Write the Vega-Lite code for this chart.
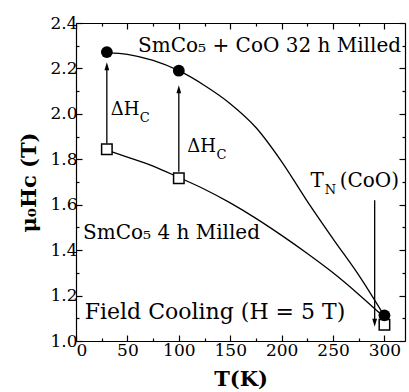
{
  "$schema": "https://vega.github.io/schema/vega-lite/v6.json",
  "width": 329,
  "height": 318,
  "autosize": "none",
  "padding": {"left": 76, "top": 23, "right": 4, "bottom": 51},
  "background": "white",
  "config": {
    "view": {"stroke": null},
    "font": "DejaVu Serif",
    "axis": {
      "grid": false,
      "domainColor": "black",
      "tickColor": "black",
      "labelColor": "black",
      "titleColor": "black",
      "labelFont": "DejaVu Serif",
      "titleFont": "DejaVu Serif",
      "labelFontSize": 17,
      "titleFontSize": 21,
      "titleFontWeight": "bold",
      "domainWidth": 1.2,
      "tickWidth": 1.2,
      "labelOverlap": false
    }
  },
  "datasets": {
    "curves": [
      {"series": "upper", "T": 30, "H": 2.27},
      {"series": "upper", "T": 50, "H": 2.262},
      {"series": "upper", "T": 75, "H": 2.235},
      {"series": "upper", "T": 100, "H": 2.19},
      {"series": "upper", "T": 125, "H": 2.125},
      {"series": "upper", "T": 150, "H": 2.045},
      {"series": "upper", "T": 175, "H": 1.94},
      {"series": "upper", "T": 200, "H": 1.79},
      {"series": "upper", "T": 225, "H": 1.615},
      {"series": "upper", "T": 250, "H": 1.45},
      {"series": "upper", "T": 275, "H": 1.29},
      {"series": "upper", "T": 300, "H": 1.11},
      {"series": "lower", "T": 30, "H": 1.84},
      {"series": "lower", "T": 50, "H": 1.81},
      {"series": "lower", "T": 75, "H": 1.77},
      {"series": "lower", "T": 100, "H": 1.72},
      {"series": "lower", "T": 125, "H": 1.668},
      {"series": "lower", "T": 150, "H": 1.608},
      {"series": "lower", "T": 175, "H": 1.54},
      {"series": "lower", "T": 200, "H": 1.465},
      {"series": "lower", "T": 225, "H": 1.385},
      {"series": "lower", "T": 250, "H": 1.3},
      {"series": "lower", "T": 275, "H": 1.205},
      {"series": "lower", "T": 296, "H": 1.12}
    ],
    "circles": [
      {"T": 30, "H": 2.272},
      {"T": 100, "H": 2.19},
      {"T": 300, "H": 1.113}
    ],
    "squares": [
      {"T": 30, "H": 1.844},
      {"T": 100, "H": 1.717},
      {"T": 300, "H": 1.072}
    ],
    "arrows": [
      {"T": 30, "from": 1.87, "to": 2.21, "dir": "up"},
      {"T": 100, "from": 1.745, "to": 2.108, "dir": "up"},
      {"T": 290.5, "from": 1.62, "to": 1.08, "dir": "down"}
    ],
    "bigtext": [
      {"label": "SmCo₅ + CoO 32 h Milled", "T": 60.4, "H": 2.271},
      {"label": "SmCo₅ 4 h Milled", "T": 6.8, "H": 1.45},
      {"label": "T", "T": 228, "H": 1.678},
      {"label": "(CoO)", "T": 256.5, "H": 1.678}
    ],
    "fieldtext": [
      {"label": "Field Cooling (H = 5 T)", "T": 8.5, "H": 1.098}
    ],
    "midtext": [
      {"label": "ΔH", "T": 33.8, "H": 1.997},
      {"label": "ΔH", "T": 108.1, "H": 1.832}
    ],
    "subtext": [
      {"label": "C", "T": 62, "H": 1.966},
      {"label": "C", "T": 136.7, "H": 1.803},
      {"label": "N", "T": 242, "H": 1.648}
    ]
  },
  "layer": [
    {
      "data": {"name": "curves"},
      "mark": {"type": "line", "color": "black", "strokeWidth": 1.3, "interpolate": "monotone"},
      "encoding": {
        "x": {"field": "T", "type": "quantitative", "scale": {"domain": [0, 320], "nice": false, "zero": false},
          "axis": {"orient": "bottom", "values": [0, 50, 100, 150, 200, 250, 300], "format": "d", "tickSize": -6, "labelPadding": 7, "title": "T(K)", "titlePadding": 10}},
        "y": {"field": "H", "type": "quantitative", "scale": {"domain": [1.0, 2.4], "nice": false, "zero": false},
          "axis": {"orient": "left", "values": [1.0, 1.2, 1.4, 1.6, 1.8, 2.0, 2.2, 2.4], "format": ".1f", "tickSize": -6, "labelPadding": 5, "title": "μ₀Hᴄ (T)", "titlePadding": 10}},
        "detail": {"field": "series"}
      }
    },
    {
      "data": {"name": "arrows"},
      "mark": {"type": "rule", "color": "black", "strokeWidth": 1.3},
      "encoding": {
        "x": {"field": "T", "type": "quantitative", "scale": {"domain": [0, 320], "nice": false, "zero": false},
          "axis": {"orient": "bottom", "values": [25, 75, 125, 175, 225, 275], "tickSize": -3, "labels": false, "domain": false, "title": null}},
        "y": {"field": "from", "type": "quantitative", "scale": {"domain": [1.0, 2.4], "nice": false, "zero": false},
          "axis": {"orient": "left", "values": [1.1, 1.3, 1.5, 1.7, 1.9, 2.1, 2.3], "tickSize": -3, "labels": false, "domain": false, "title": null}},
        "y2": {"field": "to"}
      }
    },
    {
      "data": {"name": "arrows"},
      "mark": {"type": "point", "filled": true, "color": "black", "opacity": 1, "size": 64},
      "encoding": {
        "x": {"field": "T", "type": "quantitative", "scale": {"domain": [0, 320], "nice": false, "zero": false},
          "axis": {"orient": "top", "values": [0, 50, 100, 150, 200, 250, 300], "tickSize": -6, "labels": false, "title": null}},
        "y": {"field": "to", "type": "quantitative", "scale": {"domain": [1.0, 2.4], "nice": false, "zero": false},
          "axis": {"orient": "right", "values": [1.0, 1.2, 1.4, 1.6, 1.8, 2.0, 2.2, 2.4], "tickSize": -6, "labels": false, "title": null}},
        "shape": {"field": "dir", "type": "nominal", "scale": {"domain": ["up", "down"], "range": ["M0,-1L0.6,1L-0.6,1Z", "M0,1L0.6,-1L-0.6,-1Z"]}, "legend": null}
      }
    },
    {
      "data": {"name": "squares"},
      "mark": {"type": "point", "shape": "square", "filled": true, "fill": "white", "stroke": "black", "strokeWidth": 1.5, "opacity": 1, "size": 110},
      "encoding": {
        "x": {"field": "T", "type": "quantitative", "scale": {"domain": [0, 320], "nice": false, "zero": false},
          "axis": {"orient": "top", "values": [25, 75, 125, 175, 225, 275], "tickSize": -3, "labels": false, "domain": false, "title": null}},
        "y": {"field": "H", "type": "quantitative", "scale": {"domain": [1.0, 2.4], "nice": false, "zero": false},
          "axis": {"orient": "right", "values": [1.1, 1.3, 1.5, 1.7, 1.9, 2.1, 2.3], "tickSize": -3, "labels": false, "domain": false, "title": null}}
      }
    },
    {
      "data": {"name": "circles"},
      "mark": {"type": "point", "shape": "circle", "filled": true, "color": "black", "opacity": 1, "size": 140},
      "encoding": {
        "x": {"field": "T", "type": "quantitative", "scale": {"domain": [0, 320], "nice": false, "zero": false}, "axis": null},
        "y": {"field": "H", "type": "quantitative", "scale": {"domain": [1.0, 2.4], "nice": false, "zero": false}, "axis": null}
      }
    },
    {
      "data": {"name": "bigtext"},
      "mark": {"type": "text", "align": "left", "baseline": "alphabetic", "fontSize": 20, "font": "DejaVu Serif", "color": "black"},
      "encoding": {
        "x": {"field": "T", "type": "quantitative", "scale": {"domain": [0, 320], "nice": false, "zero": false}, "axis": null},
        "y": {"field": "H", "type": "quantitative", "scale": {"domain": [1.0, 2.4], "nice": false, "zero": false}, "axis": null},
        "text": {"field": "label"}
      }
    },
    {
      "data": {"name": "fieldtext"},
      "mark": {"type": "text", "align": "left", "baseline": "alphabetic", "fontSize": 22, "font": "DejaVu Serif", "color": "black"},
      "encoding": {
        "x": {"field": "T", "type": "quantitative", "scale": {"domain": [0, 320], "nice": false, "zero": false}, "axis": null},
        "y": {"field": "H", "type": "quantitative", "scale": {"domain": [1.0, 2.4], "nice": false, "zero": false}, "axis": null},
        "text": {"field": "label"}
      }
    },
    {
      "data": {"name": "midtext"},
      "mark": {"type": "text", "align": "left", "baseline": "alphabetic", "fontSize": 18, "font": "DejaVu Serif", "color": "black"},
      "encoding": {
        "x": {"field": "T", "type": "quantitative", "scale": {"domain": [0, 320], "nice": false, "zero": false}, "axis": null},
        "y": {"field": "H", "type": "quantitative", "scale": {"domain": [1.0, 2.4], "nice": false, "zero": false}, "axis": null},
        "text": {"field": "label"}
      }
    },
    {
      "data": {"name": "subtext"},
      "mark": {"type": "text", "align": "left", "baseline": "alphabetic", "fontSize": 13, "font": "DejaVu Serif", "color": "black"},
      "encoding": {
        "x": {"field": "T", "type": "quantitative", "scale": {"domain": [0, 320], "nice": false, "zero": false}, "axis": null},
        "y": {"field": "H", "type": "quantitative", "scale": {"domain": [1.0, 2.4], "nice": false, "zero": false}, "axis": null},
        "text": {"field": "label"}
      }
    }
  ],
  "resolve": {"axis": {"x": "independent", "y": "independent"}}
}
